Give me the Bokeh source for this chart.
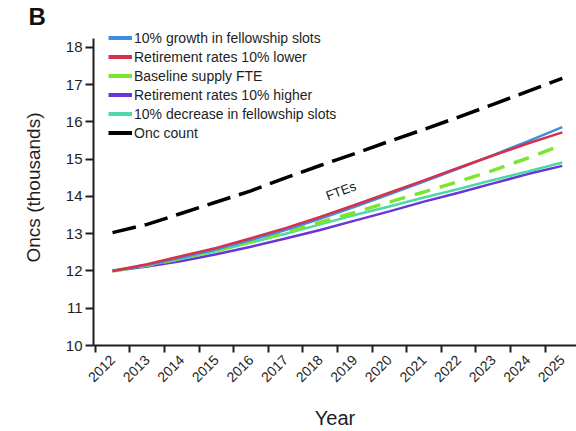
import math
from bokeh.plotting import figure
from bokeh.models import FixedTicker, Legend, LegendItem, Label, Title
from bokeh.embed import file_html
from bokeh.resources import INLINE

years = [2012, 2013, 2014, 2015, 2016, 2017, 2018, 2019, 2020, 2021, 2022, 2023, 2024, 2025]
growth_fellowship = [12.0, 12.16, 12.36, 12.58, 12.83, 13.10, 13.40, 13.72, 14.06, 14.40, 14.75, 15.11, 15.48, 15.86]
retire_lower = [12.0, 12.18, 12.40, 12.62, 12.88, 13.15, 13.45, 13.77, 14.10, 14.43, 14.77, 15.10, 15.42, 15.72]
baseline_fte = [12.0, 12.15, 12.34, 12.55, 12.78, 13.03, 13.30, 13.57, 13.85, 14.12, 14.40, 14.70, 15.03, 15.38]
retire_higher = [12.0, 12.12, 12.27, 12.45, 12.65, 12.87, 13.10, 13.35, 13.60, 13.86, 14.10, 14.35, 14.60, 14.82]
decrease_fellowship = [12.0, 12.15, 12.33, 12.53, 12.76, 13.00, 13.25, 13.50, 13.73, 13.97, 14.20, 14.44, 14.67, 14.91]
onc_count = [13.03, 13.25, 13.55, 13.85, 14.15, 14.50, 14.83, 15.15, 15.48, 15.80, 16.13, 16.47, 16.82, 17.17]
y_ticks = [10, 11, 12, 13, 14, 15, 16, 17, 18]

FONT = "Liberation Sans"
INK = "#1e1e1e"

p = figure(width=576, height=431, output_backend="svg", toolbar_location=None,
           x_range=(2011.45, 2025.41), y_range=(10, 18.48),
           min_border_left=93, min_border_right=0, min_border_top=0, min_border_bottom=86)
p.outline_line_color = None
p.grid.grid_line_color = None
p.background_fill_color = "white"

# panel letter
t = Title(text="B", text_font=FONT, text_font_size="24px", text_font_style="bold",
          align="left", offset=-65, standoff=0, text_color="#111111")
p.add_layout(t, "above")

# series
c_blue, c_red, c_green, c_purple, c_teal = "#3b8fdc", "#d8304c", "#7ee52e", "#6a35d8", "#4fd8a8"
p.line(years, retire_higher, line_color=c_purple, line_width=2.5)
p.line(years, decrease_fellowship, line_color=c_teal, line_width=2.5)
p.line(years, baseline_fte, line_color=c_green, line_width=3.5, line_dash="16 10")
p.line(years, growth_fellowship, line_color=c_blue, line_width=2.5)
p.line(years, retire_lower, line_color=c_red, line_width=2.5)
p.line(years, onc_count, line_color="black", line_width=3.5, line_dash="24 9")

# legend (solid swatches via proxy renderers that draw nothing)
names = ["10% growth in fellowship slots", "Retirement rates 10% lower", "Baseline supply FTE",
         "Retirement rates 10% higher", "10% decrease in fellowship slots", "Onc count"]
cols = [c_blue, c_red, c_green, c_purple, c_teal, "black"]
nan = float("nan")
items = []
for n, c in zip(names, cols):
    r = p.line(years[:2], [nan, nan], line_color=c, line_width=4)
    items.append(LegendItem(label=n, renderers=[r]))
leg = Legend(items=items, location=(15, 203), padding=0, margin=0, spacing=0,
             glyph_width=24, glyph_height=19, label_height=19, label_standoff=2,
             label_text_font=FONT, label_text_font_size="14px", label_text_color=INK,
             border_line_color=None, background_fill_alpha=0)
p.add_layout(leg)

# x axis
p.xaxis.ticker = FixedTicker(ticks=years, minor_ticks=[y - 0.5 for y in years])
p.xaxis.major_tick_line_color = None
p.xaxis.major_tick_out = 7
p.xaxis.minor_tick_line_color = INK
p.xaxis.minor_tick_line_width = 2
p.xaxis.minor_tick_out = 7
p.xaxis.minor_tick_in = 0
p.xaxis.major_label_orientation = math.pi / 4
p.xaxis.major_label_text_font_size = "14px"
p.xaxis.major_label_standoff = 5
p.xaxis.axis_label = "Year"
p.xaxis.axis_label_text_font_size = "20px"
p.xaxis.axis_label_standoff = 17

# y axis
p.yaxis.ticker = FixedTicker(ticks=y_ticks)
p.yaxis.bounds = (10, 18.25)
p.yaxis.minor_tick_line_color = None
p.yaxis.major_tick_line_color = INK
p.yaxis.major_tick_line_width = 2
p.yaxis.major_tick_out = 8
p.yaxis.major_tick_in = 0
p.yaxis.major_label_text_font_size = "15px"
p.yaxis.major_label_standoff = 3
p.yaxis.axis_label = "Oncs (thousands)"
p.yaxis.axis_label_text_font_size = "19px"
p.yaxis.axis_label_standoff = 19

for ax in (p.xaxis, p.yaxis):
    ax.axis_line_width = 2
    ax.axis_line_color = INK
    ax.major_label_text_font = FONT
    ax.major_label_text_color = INK
    ax.axis_label_text_font = FONT
    ax.axis_label_text_color = INK
    ax.axis_label_text_font_style = "normal"

p.add_layout(Label(x=2018.6, y=14.15, text="FTEs", angle=0.36, text_align="center",
                   text_baseline="middle", text_font=FONT, text_font_size="13px",
                   text_color=INK))

open("out.html", "w").write(file_html(p, INLINE))
